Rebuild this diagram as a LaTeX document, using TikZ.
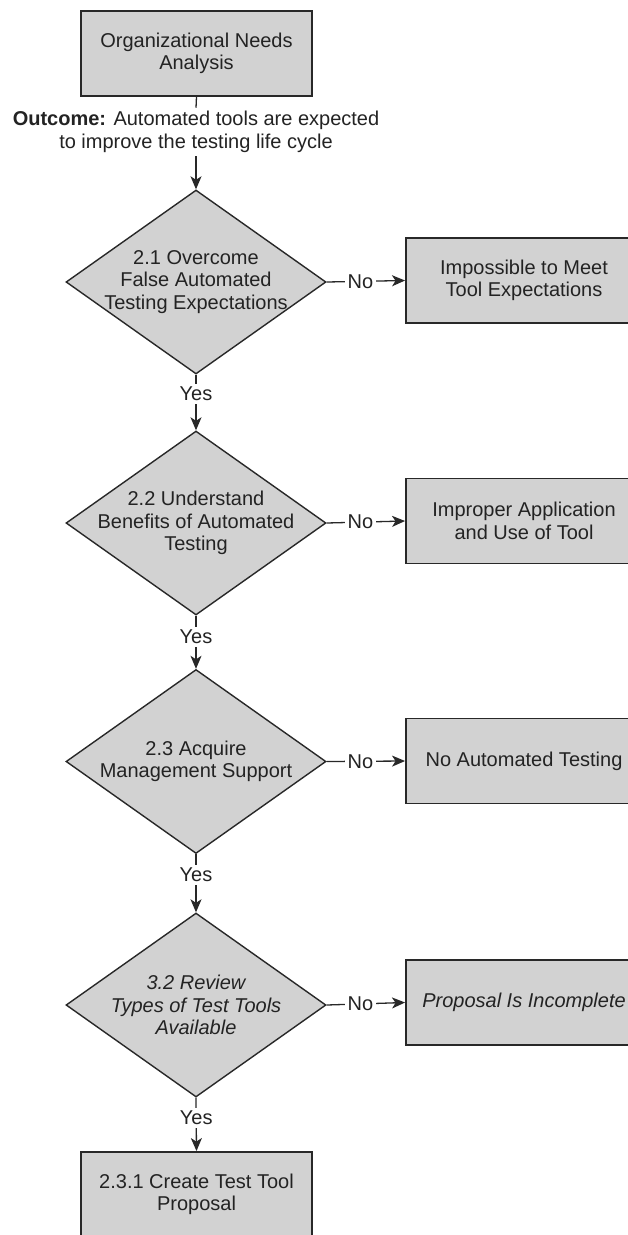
\documentclass[tikz,border=0pt]{standalone}
\usepackage{fontspec}
\setmainfont{Liberation Sans}
\usetikzlibrary{shapes.geometric,arrows.meta}
\definecolor{boxfill}{RGB}{210,210,210}
\definecolor{edgecol}{RGB}{40,40,40}
\definecolor{ink}{RGB}{35,35,35}
\begin{document}
\begin{tikzpicture}[x=1pt,y=-1pt,
  every node/.style={font=\fontsize{20}{22.5}\selectfont, text=ink},
  procbox/.style={draw=edgecol, line width=1.9pt, fill=boxfill, minimum width=231pt, minimum height=85pt, align=center, inner sep=0pt},
  sidebox/.style={procbox, minimum width=236pt},
  decision/.style={diamond, draw=edgecol, line width=1.4pt, fill=boxfill, minimum width=260pt, minimum height=184pt, inner sep=0pt},
  dtext/.style={align=center, inner sep=0pt},
  flow/.style={draw=edgecol, line width=1.3pt},
  arr/.style={flow, -{Stealth[length=13pt,width=11pt,inset=3.5pt]}},
  lbl/.style={fill=white, inner xsep=2.5pt, inner ysep=3pt}]
\useasboundingbox (0,0) rectangle (627,1235);
\fill[white] (0,0) rectangle (627,1235);

% left column
\node[procbox] (top) at (196.5,53.5) {Organizational Needs\\Analysis};
\node[align=center, inner xsep=0pt, inner ysep=3.5pt] (outcome) at (196,132)
  {\textbf{Outcome:} Automated tools are expected\\to improve the testing life cycle};

\node[decision] (d1) at (196,282) {};
\node[dtext] (t1) at (d1.center) {2.1 Overcome\\False Automated\\Testing Expectations};
\node[decision] (d2) at (196,523) {};
\node[dtext] (t2) at (d2.center) {2.2 Understand\\Benefits of Automated\\Testing};
\node[decision] (d3) at (196,761.5) {};
\node[dtext] (t3) at (d3.center) {2.3 Acquire\\Management Support};
\node[decision] (d4) at (196,1005) {};
\node[dtext] (t4) at (d4.center) {\itshape 3.2 Review\\\itshape Types of Test Tools\\\itshape Available};

\node[procbox] (final) at (196.5,1194.5) {2.3.1 Create Test Tool\\Proposal};

% right column
\node[sidebox] (b1) at (524,280.5) {Impossible to Meet\\Tool Expectations};
\node[sidebox] (b2) at (524,521) {Improper Application\\and Use of Tool};
\node[sidebox] (b3) at (524,761) {No Automated Testing};
\node[sidebox] (b4) at (524,1002.5) {\itshape Proposal Is Incomplete};

% connectors
\draw[flow] (top.south) -- (outcome.north);
\draw[arr] (outcome.south) -- (d1.north);
\draw[arr] (d1.south) -- node[lbl, pos=0.34] (y1) {Yes} (d2.north);
\draw[arr] (d2.south) -- node[lbl, pos=0.40] (y2) {Yes} (d3.north);
\draw[arr] (d3.south) -- node[lbl, pos=0.35] (y3) {Yes} (d4.north);
\draw[arr] (d4.south) -- node[lbl, pos=0.38] (y4) {Yes} (final.north);

\draw[arr] (d1.east) -- node[lbl, pos=0.43] (n1) {No} (b1.west);
\draw[arr] (d2.east) -- node[lbl, pos=0.43] (n2) {No} (b2.west);
\draw[arr] (d3.east) -- node[lbl, pos=0.43] (n3) {No} (b3.west);
\draw[arr] (d4.east) -- node[lbl, pos=0.43] (n4) {No} (b4.west);
\end{tikzpicture}
\end{document}
